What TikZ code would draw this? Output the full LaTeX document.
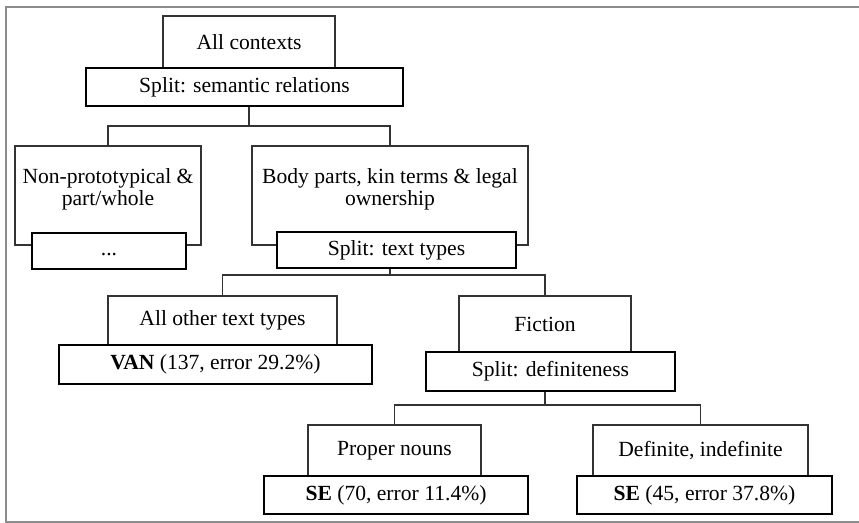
\documentclass[tikz,border=0pt]{standalone}
\usepackage{fontspec}
\setmainfont{Liberation Serif}
\usetikzlibrary{positioning}

\begin{document}
\begin{tikzpicture}[x=0.5pt, y=-0.5pt,
    font=\fontsize{10.8}{10.8}\selectfont,
    upbox/.style={draw=black!80, line width=0.8pt, fill=white, align=center, inner sep=0pt},
    splitbox/.style={draw=black, line width=1.2pt, fill=white, align=center, inner sep=0pt},
    link/.style={draw=black!80, line width=0.8pt}]

                \useasboundingbox (0,0) rectangle (859,523);
                \draw[black!45, line width=1pt] (859,7) -- (6,7) -- (6,522) -- (859,522);

                \node[upbox, minimum width=86pt, minimum height=26pt] (allctx) at (249,42) {All contexts};
                \node[upbox, minimum width=93pt, minimum height=49.5pt, text depth=8.4pt] (nonproto) at (108,195.5) {Non-prototypical \&\\part/whole};
                \node[upbox, minimum width=138pt, minimum height=49.5pt, text depth=8.4pt] (body) at (390,195.5) {Body parts, kin terms \& legal\\ownership};
                \node[upbox, minimum width=114.5pt, minimum height=24.5pt] (othertypes) at (222.5,320.5) {All other text types};
                \node[upbox, minimum width=86pt, minimum height=28pt] (fiction) at (545,324) {Fiction};
                \node[upbox, minimum width=86.5pt, minimum height=25.5pt] (proper) at (394.5,450.5) {Proper nouns};
                \node[upbox, minimum width=107.5pt, minimum height=25.5pt] (definite) at (700.5,450.5) {Definite, indefinite};

                \node[splitbox, minimum width=158.5pt, minimum height=19pt] (semsplit) at (244.5,87) {Split: semantic relations};
                \node[splitbox, minimum width=77pt, minimum height=18pt] (dots) at (109,251) {\strut...};
                \node[splitbox, minimum width=119.5pt, minimum height=18pt] (textsplit) at (396.5,250) {Split: text types};
                \node[splitbox, minimum width=156.5pt, minimum height=19.5pt] (van) at (215.5,364.5) {\textbf{VAN} (137, error 29.2\%)};
                \node[splitbox, minimum width=124.5pt, minimum height=19.5pt] (defsplit) at (550.5,371.5) {Split: definiteness};
                \node[splitbox, minimum width=132pt, minimum height=19pt] (sea) at (396,495) {\textbf{SE} (70, error 11.4\%)};
                \node[splitbox, minimum width=127.5pt, minimum height=19pt] (seb) at (704.5,495) {\textbf{SE} (45, error 37.8\%)};

                \draw[link] (allctx.south |- semsplit.south) -- ++(0,19) -| (nonproto.north);
                \draw[link] (allctx.south |- semsplit.south) -- ++(0,19) -| (body.north);
                \draw[link] (body.south |- textsplit.south) -- ++(0,6) -| (othertypes.north);
                \draw[link] (body.south |- textsplit.south) -- ++(0,6) -| (fiction.north);
                \draw[link] (fiction.south |- defsplit.south) -- ++(0,13) -| (proper.north);
                \draw[link] (fiction.south |- defsplit.south) -- ++(0,13) -| (definite.north);

            \end{tikzpicture}
\end{document}
